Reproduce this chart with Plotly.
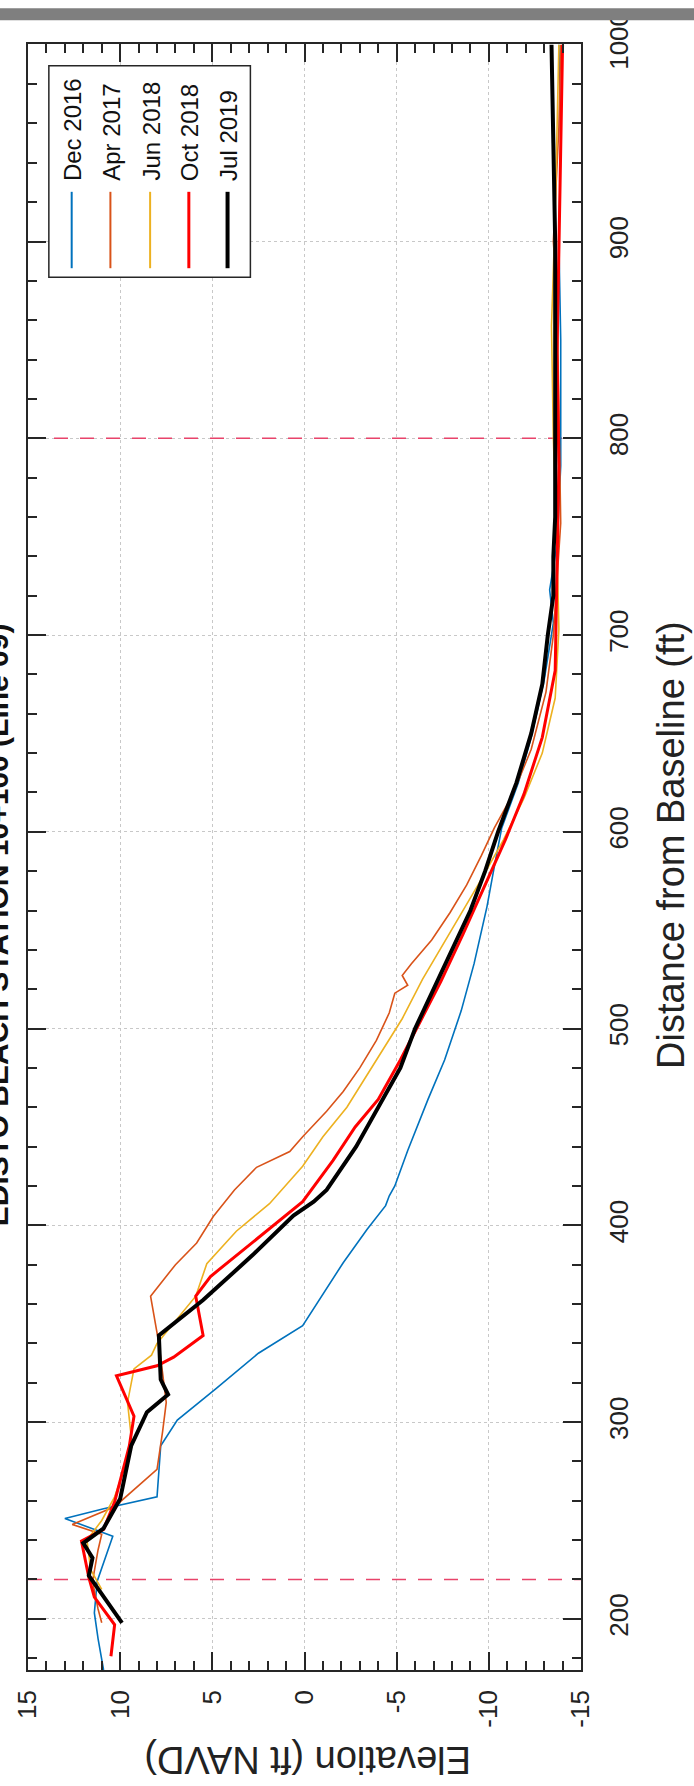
import plotly.graph_objects as go

# ---------------- data ----------------
survey_names = ["Dec 2016", "Apr 2017", "Jun 2018", "Oct 2018", "Jul 2019"]
survey_colors = ["#0072BD", "#D95319", "#EDB120", "#FF0000", "#000000"]
survey_widths = [1.6, 1.6, 1.6, 3.0, 4.0]

dec2016_dist = [174, 190, 203, 219, 242, 251, 256, 262, 288, 301, 317, 335, 349, 365, 381, 398, 410, 415, 420, 438, 464, 484, 509, 533, 562, 585, 602, 625, 648, 677, 706, 723, 746, 786, 850, 900, 950, 1000]
dec2016_elev = [10.9, 11.2, 11.4, 11.25, 10.4, 13.0, 10.9, 8.0, 7.8, 6.9, 4.8, 2.5, 0.1, -1.0, -2.1, -3.4, -4.4, -4.6, -4.9, -5.6, -6.7, -7.6, -8.5, -9.2, -9.9, -10.35, -10.7, -11.6, -12.3, -13.0, -13.5, -13.3, -13.7, -13.9, -13.9, -13.8, -13.9, -13.8]

apr2017_dist = [198, 205, 219, 235, 243, 248, 257, 276, 295, 310, 340, 364, 380, 391, 404.5, 418, 429.5, 437.5, 445, 458, 468, 480, 494, 508, 518, 522, 527, 533, 545, 559, 573, 588, 602, 619, 642, 671, 700, 728, 757, 814, 872, 900, 958, 1000]
apr2017_elev = [11.0, 11.2, 11.5, 11.2, 11.0, 12.6, 10.3, 8.0, 7.7, 7.5, 7.9, 8.35, 7.0, 5.85, 4.95, 3.8, 2.6, 0.8, 0.1, -1.2, -2.1, -3.0, -3.9, -4.6, -4.9, -5.6, -5.3, -5.8, -6.9, -7.9, -8.8, -9.6, -10.3, -11.3, -12.3, -13.1, -13.5, -13.7, -13.9, -13.8, -13.7, -13.5, -13.8, -13.9]

jun2018_dist = [215, 225, 240, 250, 262, 288, 310, 327, 334, 340, 364, 380.5, 397, 411, 430, 445, 460, 475, 490, 505, 525, 547, 576, 596, 617, 640, 668, 703, 743, 800, 857, 914, 1000]
jun2018_elev = [11.0, 11.6, 11.8, 11.0, 10.3, 9.35, 9.6, 9.25, 8.3, 8.0, 5.9, 5.3, 3.7, 1.9, 0.1, -1.0, -2.3, -3.3, -4.3, -5.3, -6.4, -7.8, -9.6, -10.8, -11.9, -12.9, -13.6, -13.8, -13.7, -13.5, -13.4, -13.6, -13.8]

oct2018_dist = [181, 197, 211, 221, 239.5, 245.5, 259.5, 288, 303, 323.5, 328.6, 333, 344, 364, 374, 393, 412, 433, 450, 464, 484, 504, 524, 548, 573, 596, 619, 648, 682, 728, 786, 843, 901, 958, 1000]
oct2018_elev = [10.5, 10.3, 11.4, 11.7, 12.1, 10.9, 10.3, 9.5, 9.25, 10.2, 8.0, 7.1, 5.5, 5.9, 5.1, 2.6, 0.1, -1.55, -2.75, -4.0, -5.2, -6.3, -7.4, -8.6, -9.8, -10.9, -11.9, -12.9, -13.6, -13.7, -13.8, -13.7, -13.8, -13.9, -14.0]

jul2019_dist = [198, 209, 222, 231, 238.5, 246, 261, 288, 305, 314, 321.6, 344, 362, 385, 405, 412, 418, 440, 460, 480, 500, 520, 540, 560, 580, 600, 625, 650, 675, 700, 720, 740, 760, 800, 850, 900, 950, 1000]
jul2019_elev = [9.9, 10.7, 11.7, 11.5, 12.0, 10.9, 10.0, 9.4, 8.55, 7.4, 7.8, 7.9, 5.5, 2.8, 0.6, -0.5, -1.2, -2.8, -4.0, -5.2, -6.0, -7.0, -8.0, -9.0, -9.8, -10.5, -11.5, -12.3, -12.9, -13.2, -13.5, -13.5, -13.6, -13.6, -13.6, -13.6, -13.5, -13.4]

survey_dist = [dec2016_dist, apr2017_dist, jun2018_dist, oct2018_dist, jul2019_dist]
survey_elev = [dec2016_elev, apr2017_elev, jun2018_elev, oct2018_elev, jul2019_elev]

reference_distances = [220, 800]   # dashed red lines
elev_ticks = [15, 10, 5, 0, -5, -10, -15]
dist_ticks = [200, 300, 400, 500, 600, 700, 800, 900, 1000]

title_text = "EDISTO BEACH STATION 10+100 (Line 09)"
dist_label = "Distance from Baseline (ft)"
elev_label = "Elevation (ft NAVD)"

# ---------------- layout geometry (pixels) ----------------
W, H = 694, 1786
L, R, T, B = 24, 581, 31, 1670
FONT = "Liberation Sans, Arial, Helvetica, sans-serif"
AX = "#262626"


def px(xp):
    return (xp - L) / (R - L)


def py(yp):
    return (B - yp) / (B - T)


fig = go.Figure()

for d in reference_distances:
    fig.add_trace(go.Scatter(x=[15, -15], y=[d, d], mode="lines",
                             line=dict(color="#E8436A", width=1.5, dash="14px,12px"),
                             showlegend=False, hoverinfo="skip"))

for name, col, w, dd, ee in zip(survey_names, survey_colors, survey_widths, survey_dist, survey_elev):
    fig.add_trace(go.Scatter(x=ee, y=dd, mode="lines", name=name,
                             line=dict(color=col, width=w), showlegend=False))

axis_common = dict(showline=True, linecolor=AX, linewidth=1.5, mirror="allticks",
                   ticks="inside", ticklen=18, tickwidth=1.5, tickcolor=AX,
                   showgrid=True, gridcolor="#C8C8C8", griddash="dot", gridwidth=1,
                   zeroline=False, tickangle=-90, ticklabeloverflow="allow",
                   tickfont=dict(family=FONT, size=26, color="#222"))

fig.update_xaxes(range=[15, -15], tickvals=elev_ticks, ticktext=[str(v) for v in elev_ticks],
                 minor=dict(dtick=1, ticks="inside", ticklen=9, tickwidth=1.5, tickcolor=AX, showgrid=False),
                 ticklabelstandoff=8, **axis_common)
fig.update_yaxes(range=[174, 1000.4], side="right", tickvals=dist_ticks, ticktext=[str(v) for v in dist_ticks],
                 minor=dict(dtick=20, tick0=0, ticks="inside", ticklen=9, tickwidth=1.5, tickcolor=AX, showgrid=False),
                 ticklabelstandoff=14, **axis_common)

shapes = []
annotations = []

# legend box
lg_left, lg_top, lg_right, lg_bottom = 45, 53, 248, 266
shapes.append(dict(type="rect", xref="paper", yref="paper",
                   x0=px(lg_left), x1=px(lg_right), y0=py(lg_bottom), y1=py(lg_top),
                   line=dict(color=AX, width=1.5), fillcolor="white", layer="above"))
leg_x = [68, 107, 147, 186, 225]
for name, col, w, lx in zip(survey_names, survey_colors, survey_widths, leg_x):
    shapes.append(dict(type="line", xref="paper", yref="paper",
                       x0=px(lx), x1=px(lx), y0=py(257), y1=py(180),
                       line=dict(color=col, width=max(w, 2)), layer="above"))
    annotations.append(dict(text=name, xref="paper", yref="paper", x=px(lx + 1), y=py(171),
                            xanchor="center", yanchor="bottom", textangle=-90, showarrow=False,
                            font=dict(family=FONT, size=24, color="#111")))

# gray bar on top
shapes.append(dict(type="rect", xref="paper", yref="paper", x0=px(-5), x1=px(W + 5),
                   y0=py(7), y1=py(-5), line=dict(width=0), fillcolor="#7F7F7F", layer="above"))

# title (partly cut off on the left)
annotations.append(dict(text="<b>" + title_text + "</b>", xref="paper", yref="paper",
                        x=px(-6), y=py(919), xanchor="center", yanchor="middle",
                        textangle=-90, showarrow=False,
                        font=dict(family=FONT, size=30, color="#111")))
# distance axis title
annotations.append(dict(text=dist_label, xref="paper", yref="paper",
                        x=px(671), y=py(838), xanchor="center", yanchor="middle",
                        textangle=-90, showarrow=False,
                        font=dict(family=FONT, size=38, color="#222")))
# elevation axis title (upside down)
annotations.append(dict(text=elev_label, xref="paper", yref="paper",
                        x=px(305), y=py(1760), xanchor="center", yanchor="middle",
                        textangle=180, showarrow=False,
                        font=dict(family=FONT, size=38, color="#222")))

fig.update_layout(width=W, height=H, margin=dict(l=L, r=W - R, t=T, b=H - B),
                  paper_bgcolor="white", plot_bgcolor="white",
                  shapes=shapes, annotations=annotations, showlegend=False)

fig.write_html("out.html", config={"displayModeBar": False},
               post_script="document.body.style.margin='0';document.body.style.overflow='hidden';")
